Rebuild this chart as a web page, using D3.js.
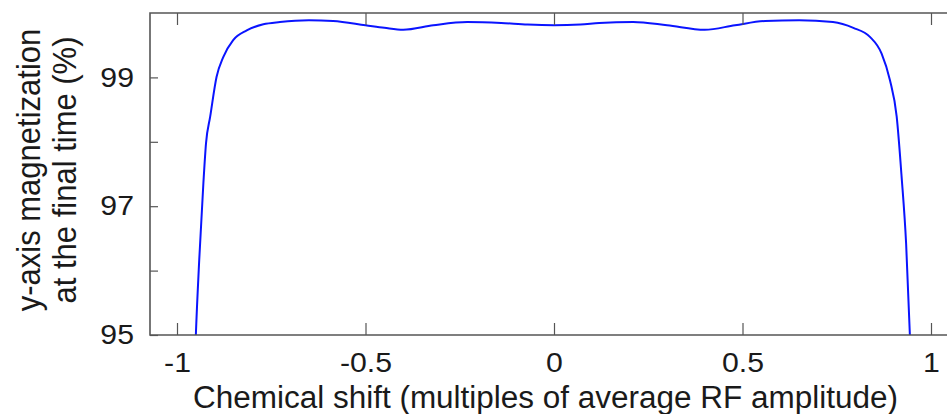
<!DOCTYPE html>
<html lang="en">
  <head>
    <meta charset="utf-8">
    <title>y-axis magnetization</title>
    <script src="https://d3js.org/d3.v7.min.js"></script>
    <style>
      body { margin: 0; background: #fff; }
      text { font-family: "Liberation Sans", Arial, sans-serif; fill: #1a1a1a; }
    </style>
  </head>
  <body>
    <div id="chart"></div>
    <script type="text/javascript">
      // chemical shift (multiples of average RF amplitude)
      var shift = [-0.953, -0.95, -0.941, -0.93, -0.923, -0.912, -0.895, -0.877, -0.851, -0.815,
                   -0.771, -0.727, -0.65, -0.586, -0.5, -0.45, -0.4, -0.32, -0.23, -0.14,
                   -0.07, 0, 0.07, 0.12, 0.21, 0.3, 0.4, 0.48, 0.56, 0.65,
                   0.74, 0.794, 0.838, 0.869, 0.891, 0.909, 0.922, 0.934, 0.944, 0.947];
      // y-axis magnetization at the final time (%)
      var magnetization = [94.5, 95.0, 96.17, 97.36, 97.98, 98.39, 99.01, 99.32, 99.58, 99.73,
                           99.825, 99.86, 99.887, 99.876, 99.81, 99.77, 99.74, 99.81, 99.86, 99.845,
                           99.82, 99.81, 99.82, 99.845, 99.86, 99.81, 99.74, 99.81, 99.876, 99.887,
                           99.86, 99.77, 99.63, 99.37, 98.96, 98.39, 97.46, 96.42, 95.0, 94.5];
      var xTicks = [-1, -0.5, 0, 0.5, 1];
      var xLabels = ["-1", "-0.5", "0", "0.5", "1"];
      var yTicks = [95, 96, 97, 98, 99];
      var yLabels = ["95", "", "97", "", "99"];

      var width = 947, height = 414;
      var plotLeft = 150, plotRight = 947, plotTop = 13, plotBottom = 335;
      var frameColor = "#555";

      var svg = d3.select("#chart").append("svg")
        .attr("width", width)
        .attr("height", height);

      var x = d3.scaleLinear().domain([-1, 1]).range([177, 931]);
      var y = d3.scaleLinear().domain([95, 100]).range([plotBottom, plotTop]);

      // the reference font looks a bit wider than Arial, so stretch the glyphs
      var stretch = function(sel, factor) {
        sel.each(function() {
          var len = this.getComputedTextLength();
          if (len > 0) {
            d3.select(this)
              .attr("textLength", len * factor)
              .attr("lengthAdjust", "spacingAndGlyphs");
          }
        });
      }

      svg.append("clipPath").attr("id", "plot-clip")
        .append("rect")
          .attr("x", plotLeft).attr("y", plotTop)
          .attr("width", plotRight - plotLeft).attr("height", plotBottom - plotTop);

      var points = shift.map(function(d, i) { return [d, magnetization[i]]; });
      var line = d3.line()
        .x(function(d) { return x(d[0]); })
        .y(function(d) { return y(d[1]); })
        .curve(d3.curveMonotoneX);

      svg.append("path")
        .datum(points)
        .attr("clip-path", "url(#plot-clip)")
        .attr("fill", "none")
        .attr("stroke", "#0a14ff")
        .attr("stroke-width", 2)
        .attr("d", line);

      // bottom axis, ticks pointing inward
      svg.append("g")
        .attr("transform", "translate(0," + plotBottom + ")")
        .call(d3.axisBottom(x).tickValues(xTicks).tickSize(-12).tickPadding(18)
          .tickFormat(function(d, i) { return xLabels[i]; }))
        .call(function(g) {
          g.attr("font-family", null);
          g.select(".domain").remove();
          g.selectAll("line").attr("stroke", frameColor).attr("stroke-width", 1.2);
          g.selectAll("text")
            .attr("font-size", "27px")
            .attr("fill", "#1a1a1a")
            .call(stretch, 1.12);
        });

      // mirrored ticks on top
      svg.append("g")
        .attr("transform", "translate(0," + plotTop + ")")
        .call(d3.axisTop(x).tickValues(xTicks).tickSize(-12).tickFormat(""))
        .call(function(g) {
          g.select(".domain").remove();
          g.selectAll("line").attr("stroke", frameColor).attr("stroke-width", 1.2);
        });

      // left axis
      svg.append("g")
        .attr("transform", "translate(" + plotLeft + ",0)")
        .call(d3.axisLeft(y).tickValues(yTicks).tickSize(-8).tickPadding(16)
          .tickFormat(function(d, i) { return yLabels[i]; }))
        .call(function(g) {
          g.attr("font-family", null);
          g.select(".domain").remove();
          g.selectAll("line").attr("stroke", frameColor).attr("stroke-width", 1.2);
          g.selectAll("text")
            .attr("font-size", "27px")
            .attr("fill", "#1a1a1a")
            .call(stretch, 1.12);
        });

      // frame (right edge falls outside the picture)
      svg.append("path")
        .attr("d", "M" + plotRight + "," + plotTop + "H" + plotLeft + "V" + plotBottom + "H" + plotRight)
        .attr("fill", "none")
        .attr("stroke", frameColor)
        .attr("stroke-width", 1.6);

      // axis titles
      svg.append("text")
        .attr("x", (193 + 898) / 2)
        .attr("y", 408)
        .attr("text-anchor", "middle")
        .attr("textLength", 705)
        .attr("lengthAdjust", "spacingAndGlyphs")
        .style("font-size", "31px")
        .text("Chemical shift (multiples of average RF amplitude)");

      var yTitle = svg.append("text")
        .attr("transform", "translate(0," + ((plotTop + plotBottom) / 2 - 4) + ")rotate(-90)scale(1,1.1)")
        .attr("text-anchor", "middle")
        .style("font-size", "31px");
      yTitle.append("tspan").attr("x", 0).attr("y", 36).text("y-axis magnetization");
      yTitle.append("tspan").attr("x", 0).attr("y", 69).text("at the final time (%)");
    </script>
  </body>
</html>
